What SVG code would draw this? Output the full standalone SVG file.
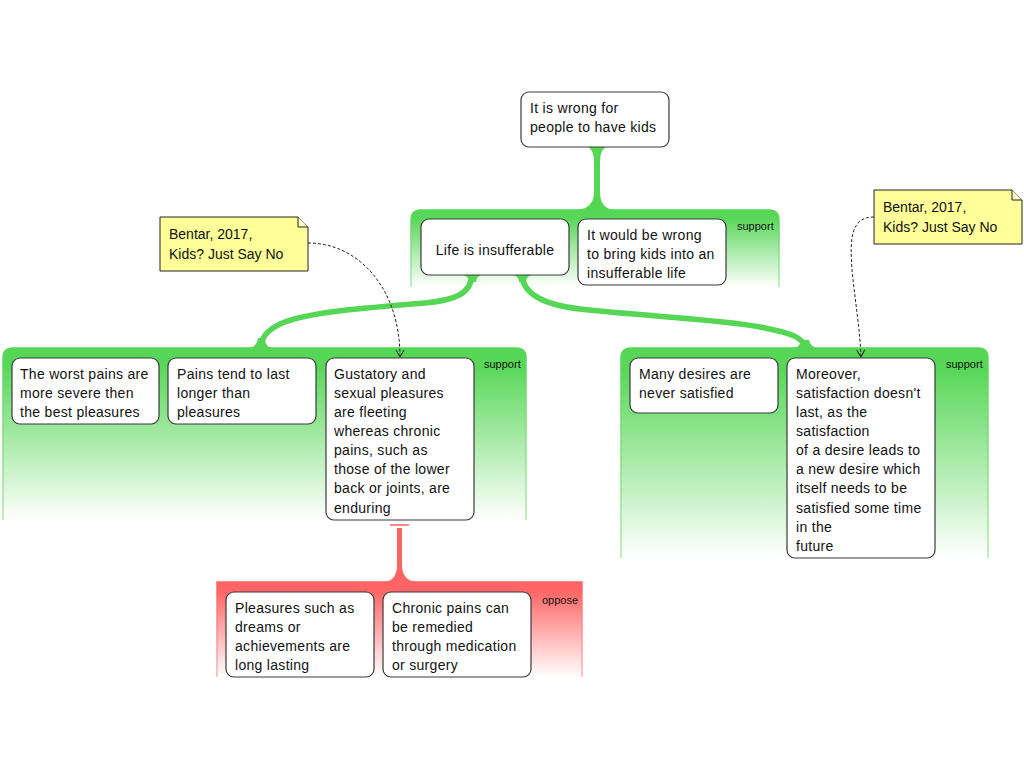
<svg xmlns="http://www.w3.org/2000/svg" width="1024" height="768" viewBox="0 0 1024 768">
<defs>
<linearGradient id="gG" x1="0" y1="0" x2="0" y2="1">
<stop offset="0" stop-color="#55d655"/><stop offset="0.1" stop-color="#58d758"/><stop offset="1" stop-color="#ffffff"/>
</linearGradient>
<linearGradient id="gGs" x1="0" y1="0" x2="0" y2="1">
<stop offset="0" stop-color="#55d655"/><stop offset="1" stop-color="#ace8ac"/>
</linearGradient>
<linearGradient id="gR" x1="0" y1="0" x2="0" y2="1">
<stop offset="0" stop-color="#ff6464"/><stop offset="0.1" stop-color="#ff6666"/><stop offset="1" stop-color="#ffffff"/>
</linearGradient>
<linearGradient id="gRs" x1="0" y1="0" x2="0" y2="1">
<stop offset="0" stop-color="#ff6464"/><stop offset="1" stop-color="#ffb4b4"/>
</linearGradient>
<marker id="arr" markerWidth="10" markerHeight="10" refX="8" refY="5" orient="auto" markerUnits="userSpaceOnUse">
<path d="M1 1 L8 5 L1 9" fill="none" stroke="#222" stroke-width="1"/>
</marker>
<style>
.node{fill:#fff;stroke:#3a3a3a;stroke-width:1.2}
.t{font-family:"Liberation Sans",Arial,sans-serif;font-size:14px;fill:#111;letter-spacing:0.3px}
.lbl{font-family:"Liberation Sans",Arial,sans-serif;font-size:11px;fill:#111}
.note{fill:#ffff99;stroke:#222;stroke-width:1}
.nt{font-family:"Comic Sans MS","Liberation Sans",sans-serif;font-size:14px;fill:#111}
.gfill{fill:url(#gG)}
.gside{fill:none;stroke:url(#gGs);stroke-width:1.5}
.rfill{fill:url(#gR)}
.rside{fill:none;stroke:url(#gRs);stroke-width:1.5}
.gc{fill:#55d655}
.gcs{fill:none;stroke:#55d655;stroke-width:5.5}
.rc{fill:#ff6464}
.dash{fill:none;stroke:#222;stroke-width:1;stroke-dasharray:3,2}
</style>
</defs>

<!-- groups (panels) -->
<g id="panel-top">
<path class="gfill" d="M411 287 L411 220 Q411 210 421 210 L769 210 Q779 210 779 220 L779 287 Z"/>
<path class="gside" d="M411 287 L411 220 Q411 210 421 210 L769 210 Q779 210 779 220 L779 287"/>
<text class="lbl" x="737" y="230">support</text>
</g>
<g id="panel-left">
<path class="gfill" d="M3 520 L3 358 Q3 348 13 348 L516 348 Q526 348 526 358 L526 520 Z"/>
<path class="gside" d="M3 520 L3 358 Q3 348 13 348 L516 348 Q526 348 526 358 L526 520"/>
<text class="lbl" x="484" y="368">support</text>
</g>
<g id="panel-right">
<path class="gfill" d="M621 558 L621 358 Q621 348 631 348 L978 348 Q988 348 988 358 L988 558 Z"/>
<path class="gside" d="M621 558 L621 358 Q621 348 631 348 L978 348 Q988 348 988 358 L988 558"/>
<text class="lbl" x="946" y="368">support</text>
</g>
<g id="panel-oppose">
<path class="rfill" d="M217 677 L217 582 L582 582 L582 677 Z"/>
<path class="rside" d="M217 677 L217 582 L582 582 L582 677"/>
<text class="lbl" x="542" y="604">oppose</text>
</g>

<!-- connectors -->
<g id="connectors">
<path class="gc" d="M588 147 Q594 150 594 162 L594 192 Q594 208 577 210 L614 210 Q600 208 600 192 L600 162 Q600 150 606 147 Z"/>
<path class="gcs" d="M472 275 C471 294 455 300 425 303 C365 308 305 312 280 324 C266 331 261 338 261 349"/>
<path class="gc" d="M247 349 Q257 347 258 338 L265 338 Q264 347 275 349 Z"/>
<path class="gc" d="M464 275 Q469 277 469 282 L476 282 Q476 277 481 275 Z"/>
<path class="gcs" d="M522 275 C523 294 545 305 580 309 C640 316 720 319 760 327 C790 333 805 337 805 349"/>
<path class="gc" d="M791 349 Q801 347 801 340 L809 340 Q810 347 820 349 Z"/>
<path class="gc" d="M514 275 Q519 277 519 282 L526 282 Q526 277 531 275 Z"/>
<line x1="390" y1="525" x2="409" y2="525" stroke="#ff6464" stroke-width="1.5"/>
<path class="rc" d="M397 528 L397 565 Q397 580 385 582 L416 582 Q402 580 402 565 L402 528 Z"/>
<path class="dash" d="M308 243 C360 243 400 290 400 357" marker-end="url(#arr)"/>
<path class="dash" d="M874 217 C850 217 850 240 852 270 C855 300 860 330 861 357" marker-end="url(#arr)"/>
</g>

<!-- nodes -->
<g id="n-root">
<rect class="node" x="521" y="92" width="148" height="55" rx="8"/>
<text class="t" x="530" y="113">It is wrong for</text>
<text class="t" x="530" y="132">people to have kids</text>
</g>
<g id="n-life">
<rect class="node" x="421" y="219" width="148" height="56" rx="8"/>
<text class="t" x="495" y="255" text-anchor="middle">Life is insufferable</text>
</g>
<g id="n-wrong">
<rect class="node" x="578" y="219" width="148" height="66" rx="8"/>
<text class="t" x="587" y="240">It would be wrong</text>
<text class="t" x="587" y="259">to bring kids into an</text>
<text class="t" x="587" y="278">insufferable life</text>
</g>
<g id="n-worst">
<rect class="node" x="12" y="358" width="147" height="66" rx="8"/>
<text class="t" x="20" y="379">The worst pains are</text>
<text class="t" x="20" y="398">more severe then</text>
<text class="t" x="20" y="417">the best pleasures</text>
</g>
<g id="n-last">
<rect class="node" x="168" y="358" width="148" height="66" rx="8"/>
<text class="t" x="177" y="379">Pains tend to last</text>
<text class="t" x="177" y="398">longer than</text>
<text class="t" x="177" y="417">pleasures</text>
</g>
<g id="n-gustatory">
<rect class="node" x="326" y="358" width="148" height="162" rx="8"/>
<text class="t" x="334" y="379">Gustatory and</text>
<text class="t" x="334" y="398">sexual pleasures</text>
<text class="t" x="334" y="417">are fleeting</text>
<text class="t" x="334" y="436">whereas chronic</text>
<text class="t" x="334" y="455">pains, such as</text>
<text class="t" x="334" y="474">those of the lower</text>
<text class="t" x="334" y="493">back or joints, are</text>
<text class="t" x="334" y="513">enduring</text>
</g>
<g id="n-desires">
<rect class="node" x="630" y="358" width="148" height="55" rx="8"/>
<text class="t" x="639" y="379">Many desires are</text>
<text class="t" x="639" y="398">never satisfied</text>
</g>
<g id="n-moreover">
<rect class="node" x="787" y="358" width="148" height="200" rx="8"/>
<text class="t" x="796" y="379">Moreover,</text>
<text class="t" x="796" y="398">satisfaction doesn't</text>
<text class="t" x="796" y="417">last, as the</text>
<text class="t" x="796" y="436">satisfaction</text>
<text class="t" x="796" y="455">of a desire leads to</text>
<text class="t" x="796" y="474">a new desire which</text>
<text class="t" x="796" y="493">itself needs to be</text>
<text class="t" x="796" y="513">satisfied some time</text>
<text class="t" x="796" y="532">in the</text>
<text class="t" x="796" y="551">future</text>
</g>
<g id="n-pleasures">
<rect class="node" x="226" y="592" width="148" height="85" rx="8"/>
<text class="t" x="235" y="613">Pleasures such as</text>
<text class="t" x="235" y="632">dreams or</text>
<text class="t" x="235" y="651">achievements are</text>
<text class="t" x="235" y="670">long lasting</text>
</g>
<g id="n-chronic">
<rect class="node" x="383" y="592" width="148" height="85" rx="8"/>
<text class="t" x="392" y="613">Chronic pains can</text>
<text class="t" x="392" y="632">be remedied</text>
<text class="t" x="392" y="651">through medication</text>
<text class="t" x="392" y="670">or surgery</text>
</g>
<g id="note-1">
<path class="note" d="M160 217 L298 217 L308 227 L308 271 L160 271 Z"/>
<path d="M298 217 L298 227 L308 227" fill="#ffffcc" stroke="#222" stroke-width="1"/>
<text class="nt" x="169" y="239">Bentar, 2017,</text>
<text class="nt" x="169" y="259">Kids? Just Say No</text>
</g>
<g id="note-2">
<path class="note" d="M874 190 L1012 190 L1022 200 L1022 244 L874 244 Z"/>
<path d="M1012 190 L1012 200 L1022 200" fill="#ffffcc" stroke="#222" stroke-width="1"/>
<text class="nt" x="883" y="212">Bentar, 2017,</text>
<text class="nt" x="883" y="232">Kids? Just Say No</text>
</g>
</svg>
